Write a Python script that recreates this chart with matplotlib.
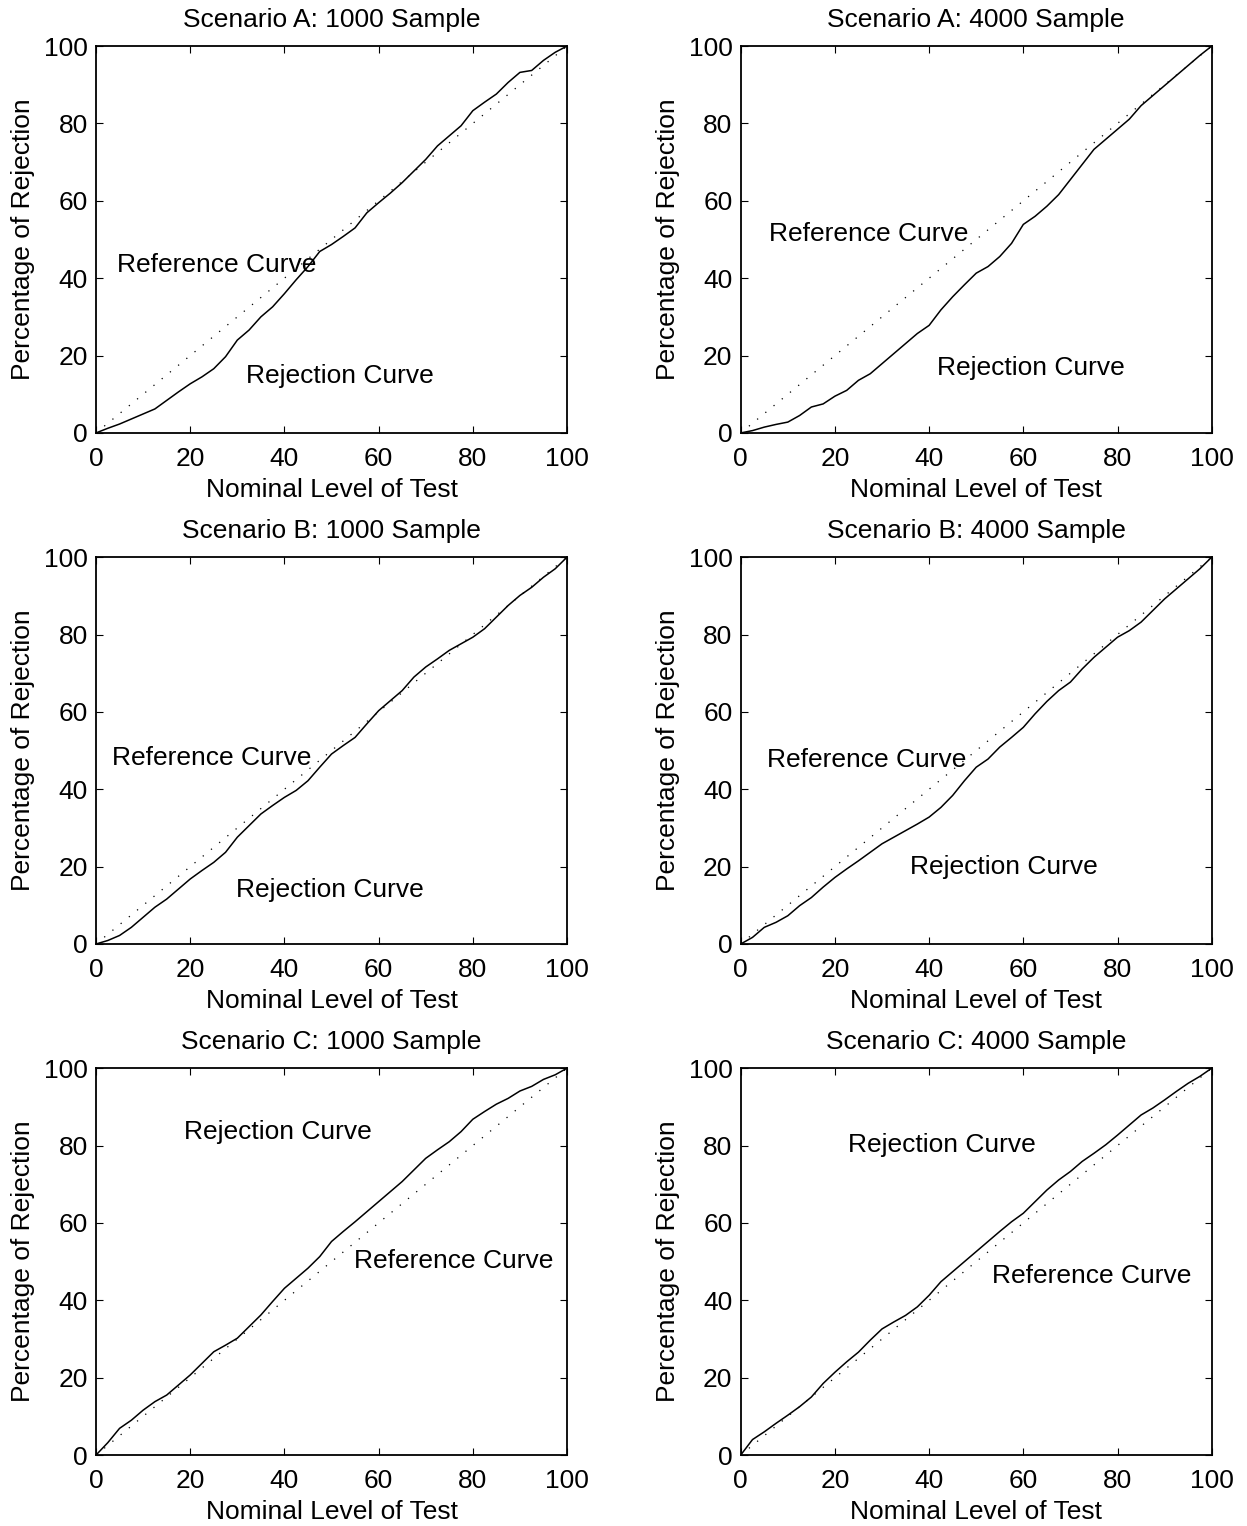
import matplotlib
matplotlib.use('Agg')
import matplotlib.pyplot as plt
import numpy as np

plt.rcParams['font.family'] = ['Liberation Sans', 'DejaVu Sans']

# nominal level grid (percent)
nominal = [0, 2.5, 5, 7.5, 10, 12.5, 15, 17.5, 20, 22.5, 25, 27.5, 30, 32.5, 35, 37.5, 40,
           42.5, 45, 47.5, 50, 52.5, 55, 57.5, 60, 62.5, 65, 67.5, 70, 72.5, 75, 77.5, 80,
           82.5, 85, 87.5, 90, 92.5, 95, 97.5, 100]

# rejection curves
rej_A1000 = [0, 1.2, 2.3, 3.6, 4.9, 6.2, 8.4, 10.6, 12.7, 14.5, 16.6, 19.7, 24, 26.6, 30, 32.6, 36,
             39.6, 43, 46.9, 48.7, 50.8, 53, 56.9, 59.5, 62, 64.7, 67.7, 70.7, 74.2, 76.8, 79.4, 83.3,
             85.5, 87.6, 90.6, 93.2, 93.7, 96.3, 98.4, 100]
rej_A4000 = [0, 0.6, 1.5, 2.2, 2.8, 4.5, 6.7, 7.5, 9.5, 11, 13.6, 15.3, 17.9, 20.5, 23.1, 25.7, 27.8,
             31.8, 35.2, 38.3, 41.3, 43, 45.6, 49, 53.9, 56, 58.6, 61.6, 65.5, 69.4, 73.3, 75.9, 78.5,
             81.1, 84.6, 87.2, 89.8, 92.4, 95, 97.6, 100]
rej_B1000 = [0, 0.9, 2.2, 4.3, 6.9, 9.5, 11.6, 14.2, 16.8, 19, 21.1, 23.7, 27.6, 30.6, 33.6, 35.8, 37.9,
             39.7, 42.2, 45.7, 49.1, 51.3, 53.4, 56.9, 60.3, 62.9, 65.5, 69, 71.6, 73.7, 75.9, 77.6, 79.3,
             81.5, 84.5, 87.5, 90.1, 92.2, 94.8, 97, 100]
rej_B4000 = [0, 1.7, 4.3, 5.6, 7.3, 9.9, 12, 14.7, 17.2, 19.4, 21.5, 23.7, 25.9, 27.6, 29.3, 31, 32.8,
             35.3, 38.4, 42.2, 45.7, 47.8, 50.9, 53.4, 56, 59.5, 62.7, 65.5, 67.7, 71.1, 74.1, 76.7, 79.3,
             81, 83.2, 86.2, 89.2, 91.8, 94.4, 97, 100]
rej_C1000 = [0, 3.2, 6.9, 9, 11.6, 13.8, 15.5, 18.1, 20.7, 23.7, 26.7, 28.4, 30.2, 33.2, 36.2, 39.7, 43.1,
             45.7, 48.3, 51.3, 55.2, 57.8, 60.3, 62.9, 65.5, 68.1, 70.7, 73.7, 76.7, 78.9, 81, 83.6, 86.8,
             88.8, 90.7, 92.2, 94.1, 95.3, 97.1, 98.3, 100]
rej_C4000 = [0, 4, 6, 8.2, 10.3, 12.5, 15, 18.5, 21.4, 24.1, 26.6, 29.7, 32.6, 34.4, 36.1, 38.3, 41.3,
             44.8, 47.4, 50, 52.6, 55.2, 57.8, 60.3, 62.5, 65.5, 68.5, 71.1, 73.3, 75.9, 78, 80.2, 82.7,
             85.3, 87.9, 89.7, 91.8, 94, 96.1, 97.9, 100]

titles = ['Scenario A: 1000 Sample', 'Scenario A: 4000 Sample',
          'Scenario B: 1000 Sample', 'Scenario B: 4000 Sample',
          'Scenario C: 1000 Sample', 'Scenario C: 4000 Sample']
curves = [rej_A1000, rej_A4000, rej_B1000, rej_B4000, rej_C1000, rej_C4000]

# label anchor points (left edge, vertical centre) in data units
ref_pos = [(4.5, 43.5), (6.1, 51.5), (3.4, 48), (5.5, 47.5), (54.8, 50.1), (53.4, 46.3)]
rej_pos = [(31.8, 14.8), (41.7, 16.8), (29.7, 14), (36, 19.9), (18.7, 83.5), (22.7, 80.1)]

fs = 19
fig = plt.figure(figsize=(12.47, 15.26), dpi=100)
lefts = [0.077, 0.594]
bottoms = [0.7163, 0.3814, 0.0465]
w, h = 0.3777, 0.2535

for i in range(6):
    ax = fig.add_axes([lefts[i % 2], bottoms[i // 2], w, h])
    ax.plot(nominal, nominal, color='black', lw=0.9, dashes=(1.0, 7.5))
    ax.plot(nominal, curves[i], color='black', lw=1.1)
    ax.set_xlim(0, 100)
    ax.set_ylim(0, 100)
    ax.set_xticks([0, 20, 40, 60, 80, 100])
    ax.set_yticks([0, 20, 40, 60, 80, 100])
    ax.tick_params(direction='in', top=True, right=True, length=5, width=0.8, labelsize=fs)
    ax.tick_params(axis='x', pad=10)
    ax.tick_params(axis='y', pad=6)
    for s in ax.spines.values():
        s.set_linewidth(1.3)
    ax.set_title(titles[i], fontsize=fs, pad=14)
    ax.set_xlabel('Nominal Level of Test', fontsize=fs, labelpad=5)
    ax.set_ylabel('Percentage of Rejection', fontsize=fs, labelpad=6)
    ax.text(ref_pos[i][0], ref_pos[i][1], 'Reference Curve', fontsize=fs, va='center', ha='left')
    ax.text(rej_pos[i][0], rej_pos[i][1], 'Rejection Curve', fontsize=fs, va='center', ha='left')

plt.savefig('out.png', dpi=100)
